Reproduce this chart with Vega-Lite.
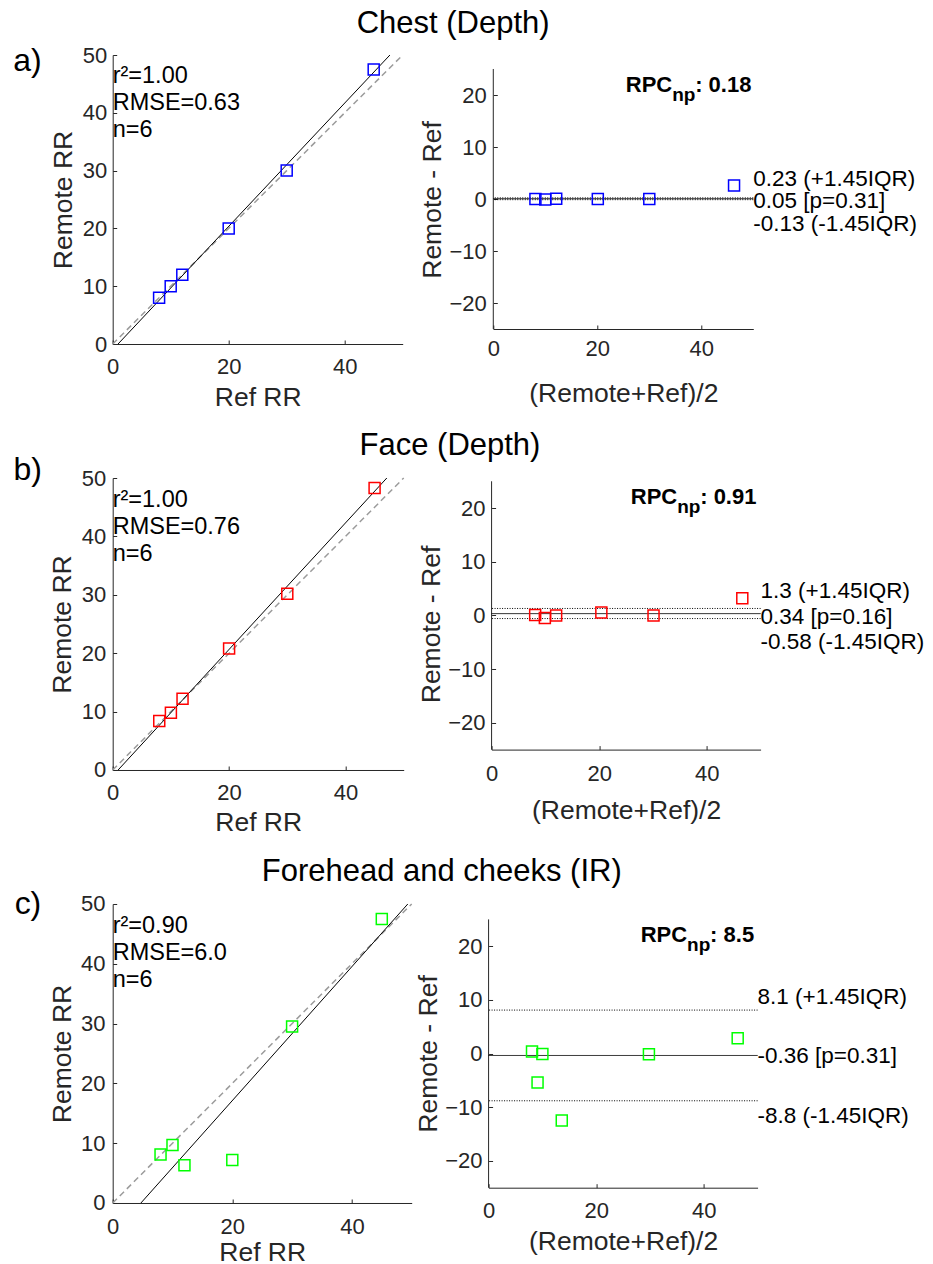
{
"$schema": "https://vega.github.io/schema/vega-lite/v6.json",
"background": "white",
"padding": {"left": 12.7, "top": 8, "right": 5, "bottom": 2},
"spacing": 19,
"config": {
 "font": "Liberation Sans",
 "view": {"stroke": null},
 "axis": {"grid": false, "domainColor": "#262626", "domainWidth": 1, "tickColor": "#262626", "tickSize": -4, "tickWidth": 1, "labelColor": "#262626", "labelFontSize": 22, "labelFont": "Liberation Sans", "titleColor": "#262626", "titleFontSize": 26.5, "titleFont": "Liberation Sans", "titleFontWeight": "normal", "labelFlush": false, "labelOverlap": false},
 "title": {"fontSize": 31, "fontWeight": "normal", "font": "Liberation Sans", "color": "black", "anchor": "middle"}
},
"datasets": {
 "pts_a": [{"ref":8,"remote":8},{"ref":10,"remote":10},{"ref":12,"remote":12},{"ref":20,"remote":20},{"ref":30,"remote":30},{"ref":45,"remote":47.5}],
 "ba_a": [{"mean":8.1,"diff":0},{"mean":10,"diff":-0.1},{"mean":12.1,"diff":0.05},{"mean":20.1,"diff":0},{"mean":30,"diff":0},{"mean":46.3,"diff":2.6}],
 "lines_a": [{"kind":"identity","x1":0,"y1":0,"x2":50,"y2":50},{"kind":"fit","x1":0.92,"y1":0,"x2":47.8,"y2":50}],
 "loa_a": [{"kind":"upper","value":0.23,"label":"0.23 (+1.45IQR)"},{"kind":"mean","value":0.05,"label":"0.05 [p=0.31]"},{"kind":"lower","value":-0.13,"label":"-0.13 (-1.45IQR)"}],
 "info_a": [{"panel":"a)","stats":["r²=1.00","RMSE=0.63","n=6"],"rpc":": 0.18"}],
 "pts_b": [{"ref":8,"remote":8.4},{"ref":10,"remote":9.8},{"ref":12,"remote":12.2},{"ref":20,"remote":20.8},{"ref":30,"remote":30.2},{"ref":45,"remote":48.3}],
 "ba_b": [{"mean":8.1,"diff":0.1},{"mean":9.9,"diff":-0.5},{"mean":12.0,"diff":0},{"mean":20.4,"diff":0.55},{"mean":30.1,"diff":0},{"mean":46.6,"diff":3.2}],
 "lines_b": [{"kind":"identity","x1":0,"y1":0,"x2":50,"y2":50},{"kind":"fit","x1":0.93,"y1":0,"x2":47.1,"y2":50}],
 "loa_b": [{"kind":"upper","value":1.3,"label":"1.3 (+1.45IQR)"},{"kind":"mean","value":0.34,"label":"0.34 [p=0.16]"},{"kind":"lower","value":-0.58,"label":"-0.58 (-1.45IQR)"}],
 "info_b": [{"panel":"b)","stats":["r²=1.00","RMSE=0.76","n=6"],"rpc":": 0.91"}],
 "pts_c": [{"ref":8,"remote":8.1},{"ref":10,"remote":9.7},{"ref":12,"remote":6.3},{"ref":20,"remote":7.2},{"ref":30,"remote":29.5},{"ref":45,"remote":47.5}],
 "ba_c": [{"mean":8.07,"diff":0.37},{"mean":10.0,"diff":-0.07},{"mean":9.1,"diff":-5.4},{"mean":13.6,"diff":-12.5},{"mean":29.8,"diff":-0.13},{"mean":46.3,"diff":2.85}],
 "lines_c": [{"kind":"identity","x1":0,"y1":0,"x2":50,"y2":50},{"kind":"fit","x1":4.72,"y1":0,"x2":49.35,"y2":50}],
 "loa_c": [{"kind":"upper","value":8.1,"label":"8.1 (+1.45IQR)"},{"kind":"mean","value":-0.36,"label":"-0.36 [p=0.31]"},{"kind":"lower","value":-8.8,"label":"-8.8 (-1.45IQR)"}],
 "info_c": [{"panel":"c)","stats":["r²=0.90","RMSE=6.0","n=6"],"rpc":": 8.5"}]
},
"vconcat": [
 {
  "title": {"text": "Chest (Depth)", "dx": -12, "offset": 4},
  "spacing": 15.6,
  "hconcat": [
   {
    "width": 290, "height": 289,
    "layer": [
     {"data": {"name": "lines_a"}, "transform": [{"filter": "datum.kind === 'identity'"}],
      "mark": {"type": "rule", "color": "#9b9b9b", "strokeWidth": 1.5, "strokeDash": [6, 4]},
      "encoding": {
       "x": {"field": "x1", "type": "quantitative", "scale": {"domain": [0, 50], "nice": false, "zero": false}, "axis": {"title": "Ref RR", "values": [0, 20, 40], "labelPadding": 16.5, "titlePadding": 7}},
       "y": {"field": "y1", "type": "quantitative", "scale": {"domain": [0, 50], "nice": false, "zero": false}, "axis": {"title": "Remote RR", "values": [0, 10, 20, 30, 40, 50], "labelPadding": 10, "titlePadding": 5}},
       "x2": {"field": "x2"}, "y2": {"field": "y2"}}},
     {"data": {"name": "lines_a"}, "transform": [{"filter": "datum.kind === 'fit'"}],
      "mark": {"type": "rule", "color": "black", "strokeWidth": 1},
      "encoding": {"x": {"field": "x1", "type": "quantitative"}, "y": {"field": "y1", "type": "quantitative"}, "x2": {"field": "x2"}, "y2": {"field": "y2"}}},
     {"data": {"name": "pts_a"},
      "mark": {"type": "point", "shape": "square", "filled": false, "size": 121, "strokeWidth": 1.5, "color": "#0000ff", "opacity": 1},
      "encoding": {"x": {"field": "ref", "type": "quantitative"}, "y": {"field": "remote", "type": "quantitative"}}},
     {"data": {"name": "info_a"},
      "mark": {"type": "text", "align": "left", "baseline": "alphabetic", "fontSize": 23.5, "lineHeight": 26.7, "color": "black"},
      "encoding": {"x": {"datum": 0}, "y": {"datum": 45.1}, "text": {"field": "stats"}}},
     {"data": {"name": "info_a"},
      "mark": {"type": "text", "align": "left", "baseline": "alphabetic", "fontSize": 32, "color": "black"},
      "encoding": {"x": {"datum": -17.15}, "y": {"datum": 47.2}, "text": {"field": "panel"}}}
    ]
   },
   {
    "width": 260, "height": 289,
    "layer": [
     {"data": {"name": "info_a"}, "mark": {"type": "rule", "color": "#262626", "strokeWidth": 1},
      "encoding": {"x": {"datum": 0}, "y": {"datum": -25}, "y2": {"datum": 25}}},
     {"data": {"name": "loa_a"}, "mark": {"type": "rule", "color": "black", "strokeWidth": 1},
      "encoding": {"y": {"field": "value", "type": "quantitative"}, "strokeDash": {"field": "kind", "type": "nominal", "scale": {"domain": ["upper", "mean", "lower"], "range": [[1, 1.5], [1, 0], [1, 1.5]]}, "legend": null}}},
     {"data": {"name": "ba_a"},
      "mark": {"type": "point", "shape": "square", "filled": false, "size": 121, "strokeWidth": 1.5, "color": "#0000ff", "opacity": 1},
      "encoding": {
       "x": {"field": "mean", "type": "quantitative", "scale": {"domain": [0, 50], "nice": false, "zero": false}, "axis": {"title": "(Remote+Ref)/2", "values": [0, 20, 40], "offset": -15, "labelPadding": 13, "titlePadding": 21}},
       "y": {"field": "diff", "type": "quantitative", "scale": {"domain": [-27.88, 27.69], "nice": false, "zero": false}, "axis": {"title": "Remote - Ref", "values": [-20, -10, 0, 10, 20], "domain": false, "labelPadding": 11, "titlePadding": 2}}}},
     {"data": {"name": "loa_a"}, "transform": [{"filter": "datum.kind === 'upper'"}],
      "mark": {"type": "text", "align": "left", "baseline": "middle", "fontSize": 22.5, "dy": -18.5, "color": "black"},
      "encoding": {"x": {"datum": 50}, "y": {"field": "value", "type": "quantitative"}, "text": {"field": "label"}}},
     {"data": {"name": "loa_a"}, "transform": [{"filter": "datum.kind === 'mean'"}],
      "mark": {"type": "text", "align": "left", "baseline": "middle", "fontSize": 22.5, "dy": 2, "color": "black"},
      "encoding": {"x": {"datum": 50}, "y": {"field": "value", "type": "quantitative"}, "text": {"field": "label"}}},
     {"data": {"name": "loa_a"}, "transform": [{"filter": "datum.kind === 'lower'"}],
      "mark": {"type": "text", "align": "left", "baseline": "middle", "fontSize": 22.5, "dy": 24.6, "color": "black"},
      "encoding": {"x": {"datum": 50}, "y": {"field": "value", "type": "quantitative"}, "text": {"field": "label"}}},
     {"data": {"name": "info_a"}, "mark": {"type": "text", "align": "right", "baseline": "alphabetic", "fontSize": 22, "fontWeight": "bold", "color": "black"},
      "encoding": {"x": {"datum": 34.4}, "y": {"datum": 20.6}, "text": {"value": "RPC"}}},
     {"data": {"name": "info_a"}, "mark": {"type": "text", "align": "left", "baseline": "alphabetic", "fontSize": 19, "fontWeight": "bold", "dy": 9, "color": "black"},
      "encoding": {"x": {"datum": 34.4}, "y": {"datum": 20.6}, "text": {"value": "np"}}},
     {"data": {"name": "info_a"}, "mark": {"type": "text", "align": "left", "baseline": "alphabetic", "fontSize": 22, "fontWeight": "bold", "dx": 23, "color": "black"},
      "encoding": {"x": {"datum": 34.4}, "y": {"datum": 20.6}, "text": {"field": "rpc"}}}
    ]
   }
  ]
 },
 {
  "title": {"text": "Face (Depth)", "dx": -19, "offset": -8},
  "spacing": 12.9,
  "hconcat": [
   {
    "width": 291, "height": 292,
    "layer": [
     {"data": {"name": "lines_b"}, "transform": [{"filter": "datum.kind === 'identity'"}],
      "mark": {"type": "rule", "color": "#9b9b9b", "strokeWidth": 1.5, "strokeDash": [6, 4]},
      "encoding": {
       "x": {"field": "x1", "type": "quantitative", "scale": {"domain": [0, 50], "nice": false, "zero": false}, "axis": {"title": "Ref RR", "values": [0, 20, 40], "labelPadding": 16.8, "titlePadding": 5.7}},
       "y": {"field": "y1", "type": "quantitative", "scale": {"domain": [0, 50], "nice": false, "zero": false}, "axis": {"title": "Remote RR", "values": [0, 10, 20, 30, 40, 50], "labelPadding": 11, "titlePadding": 4.4}},
       "x2": {"field": "x2"}, "y2": {"field": "y2"}}},
     {"data": {"name": "lines_b"}, "transform": [{"filter": "datum.kind === 'fit'"}],
      "mark": {"type": "rule", "color": "black", "strokeWidth": 1},
      "encoding": {"x": {"field": "x1", "type": "quantitative"}, "y": {"field": "y1", "type": "quantitative"}, "x2": {"field": "x2"}, "y2": {"field": "y2"}}},
     {"data": {"name": "pts_b"},
      "mark": {"type": "point", "shape": "square", "filled": false, "size": 121, "strokeWidth": 1.5, "color": "#ff0000", "opacity": 1},
      "encoding": {"x": {"field": "ref", "type": "quantitative"}, "y": {"field": "remote", "type": "quantitative"}}},
     {"data": {"name": "info_b"},
      "mark": {"type": "text", "align": "left", "baseline": "alphabetic", "fontSize": 23.5, "lineHeight": 26.7, "color": "black"},
      "encoding": {"x": {"datum": 0}, "y": {"datum": 45.0}, "text": {"field": "stats"}}},
     {"data": {"name": "info_b"},
      "mark": {"type": "text", "align": "left", "baseline": "alphabetic", "fontSize": 32, "color": "black"},
      "encoding": {"x": {"datum": -17.03}, "y": {"datum": 49.6}, "text": {"field": "panel"}}}
    ]
   },
   {
    "width": 269, "height": 292,
    "layer": [
     {"data": {"name": "info_b"}, "mark": {"type": "rule", "color": "#262626", "strokeWidth": 1},
      "encoding": {"x": {"datum": 0}, "y": {"datum": -25}, "y2": {"datum": 25}}},
     {"data": {"name": "loa_b"}, "mark": {"type": "rule", "color": "black", "strokeWidth": 1},
      "encoding": {"y": {"field": "value", "type": "quantitative"}, "strokeDash": {"field": "kind", "type": "nominal", "scale": {"domain": ["upper", "mean", "lower"], "range": [[1, 1.5], [1, 0], [1, 1.5]]}, "legend": null}}},
     {"data": {"name": "ba_b"},
      "mark": {"type": "point", "shape": "square", "filled": false, "size": 121, "strokeWidth": 1.5, "color": "#ff0000", "opacity": 1},
      "encoding": {
       "x": {"field": "mean", "type": "quantitative", "scale": {"domain": [0, 50], "nice": false, "zero": false}, "axis": {"title": "(Remote+Ref)/2", "values": [0, 20, 40], "offset": -20.4, "labelPadding": 17.5, "titlePadding": 13.4}},
       "y": {"field": "diff", "type": "quantitative", "scale": {"domain": [-28.8, 25.61], "nice": false, "zero": false}, "axis": {"title": "Remote - Ref", "values": [-20, -10, 0, 10, 20], "domain": false, "labelPadding": 10.6, "titlePadding": 2.5}}}},
     {"data": {"name": "loa_b"}, "transform": [{"filter": "datum.kind === 'upper'"}],
      "mark": {"type": "text", "align": "left", "baseline": "middle", "fontSize": 22.5, "dy": -17.5, "color": "black"},
      "encoding": {"x": {"datum": 50}, "y": {"field": "value", "type": "quantitative"}, "text": {"field": "label"}}},
     {"data": {"name": "loa_b"}, "transform": [{"filter": "datum.kind === 'mean'"}],
      "mark": {"type": "text", "align": "left", "baseline": "middle", "fontSize": 22.5, "dy": 3.3, "color": "black"},
      "encoding": {"x": {"datum": 50}, "y": {"field": "value", "type": "quantitative"}, "text": {"field": "label"}}},
     {"data": {"name": "loa_b"}, "transform": [{"filter": "datum.kind === 'lower'"}],
      "mark": {"type": "text", "align": "left", "baseline": "middle", "fontSize": 22.5, "dy": 23.9, "color": "black"},
      "encoding": {"x": {"datum": 50}, "y": {"field": "value", "type": "quantitative"}, "text": {"field": "label"}}},
     {"data": {"name": "info_b"}, "mark": {"type": "text", "align": "right", "baseline": "alphabetic", "fontSize": 22, "fontWeight": "bold", "color": "black"},
      "encoding": {"x": {"datum": 34.5}, "y": {"datum": 20.84}, "text": {"value": "RPC"}}},
     {"data": {"name": "info_b"}, "mark": {"type": "text", "align": "left", "baseline": "alphabetic", "fontSize": 19, "fontWeight": "bold", "dy": 9, "color": "black"},
      "encoding": {"x": {"datum": 34.5}, "y": {"datum": 20.84}, "text": {"value": "np"}}},
     {"data": {"name": "info_b"}, "mark": {"type": "text", "align": "left", "baseline": "alphabetic", "fontSize": 22, "fontWeight": "bold", "dx": 23, "color": "black"},
      "encoding": {"x": {"datum": 34.5}, "y": {"datum": 20.84}, "text": {"field": "rpc"}}}
    ]
   }
  ]
 },
 {
  "title": {"text": "Forehead and cheeks (IR)", "dx": -20, "offset": 0},
  "spacing": 2.9,
  "hconcat": [
   {
    "width": 299, "height": 299,
    "layer": [
     {"data": {"name": "lines_c"}, "transform": [{"filter": "datum.kind === 'identity'"}],
      "mark": {"type": "rule", "color": "#9b9b9b", "strokeWidth": 1.5, "strokeDash": [6, 4]},
      "encoding": {
       "x": {"field": "x1", "type": "quantitative", "scale": {"domain": [0, 50], "nice": false, "zero": false}, "axis": {"title": "Ref RR", "values": [0, 20, 40], "labelPadding": 17.9, "titlePadding": 1.5}},
       "y": {"field": "y1", "type": "quantitative", "scale": {"domain": [0, 50], "nice": false, "zero": false}, "axis": {"title": "Remote RR", "values": [0, 10, 20, 30, 40, 50], "labelPadding": 11.7, "titlePadding": 4.5}},
       "x2": {"field": "x2"}, "y2": {"field": "y2"}}},
     {"data": {"name": "lines_c"}, "transform": [{"filter": "datum.kind === 'fit'"}],
      "mark": {"type": "rule", "color": "black", "strokeWidth": 1},
      "encoding": {"x": {"field": "x1", "type": "quantitative"}, "y": {"field": "y1", "type": "quantitative"}, "x2": {"field": "x2"}, "y2": {"field": "y2"}}},
     {"data": {"name": "pts_c"},
      "mark": {"type": "point", "shape": "square", "filled": false, "size": 121, "strokeWidth": 1.5, "color": "#00ff00", "opacity": 1},
      "encoding": {"x": {"field": "ref", "type": "quantitative"}, "y": {"field": "remote", "type": "quantitative"}}},
     {"data": {"name": "info_c"},
      "mark": {"type": "text", "align": "left", "baseline": "alphabetic", "fontSize": 23.5, "lineHeight": 26.7, "color": "black"},
      "encoding": {"x": {"datum": 0}, "y": {"datum": 45.1}, "text": {"field": "stats"}}},
     {"data": {"name": "info_c"},
      "mark": {"type": "text", "align": "left", "baseline": "alphabetic", "fontSize": 32, "color": "black"},
      "encoding": {"x": {"datum": -16.4}, "y": {"datum": 48.4}, "text": {"field": "panel"}}}
    ]
   },
   {
    "width": 269, "height": 299,
    "layer": [
     {"data": {"name": "info_c"}, "mark": {"type": "rule", "color": "#262626", "strokeWidth": 1},
      "encoding": {"x": {"datum": 0}, "y": {"datum": -25}, "y2": {"datum": 25}}},
     {"data": {"name": "loa_c"}, "mark": {"type": "rule", "color": "black", "strokeWidth": 1},
      "encoding": {"y": {"field": "value", "type": "quantitative"}, "strokeDash": {"field": "kind", "type": "nominal", "scale": {"domain": ["upper", "mean", "lower"], "range": [[1, 1.5], [1, 0], [1, 1.5]]}, "legend": null}}},
     {"data": {"name": "ba_c"},
      "mark": {"type": "point", "shape": "square", "filled": false, "size": 121, "strokeWidth": 1.5, "color": "#00ff00", "opacity": 1},
      "encoding": {
       "x": {"field": "mean", "type": "quantitative", "scale": {"domain": [0, 50], "nice": false, "zero": false}, "axis": {"title": "(Remote+Ref)/2", "values": [0, 20, 40], "offset": -15.3, "labelPadding": 16.5, "titlePadding": 7.7}},
       "y": {"field": "diff", "type": "quantitative", "scale": {"domain": [-27.85, 27.87], "nice": false, "zero": false}, "axis": {"title": "Remote - Ref", "values": [-20, -10, 0, 10, 20], "domain": false, "labelPadding": 10.6, "titlePadding": 2}}}},
     {"data": {"name": "loa_c"}, "transform": [{"filter": "datum.kind === 'upper'"}],
      "mark": {"type": "text", "align": "left", "baseline": "middle", "fontSize": 22.5, "dy": -12.7, "color": "black"},
      "encoding": {"x": {"datum": 50}, "y": {"field": "value", "type": "quantitative"}, "text": {"field": "label"}}},
     {"data": {"name": "loa_c"}, "transform": [{"filter": "datum.kind === 'mean'"}],
      "mark": {"type": "text", "align": "left", "baseline": "middle", "fontSize": 22.5, "dy": 0.3, "color": "black"},
      "encoding": {"x": {"datum": 50}, "y": {"field": "value", "type": "quantitative"}, "text": {"field": "label"}}},
     {"data": {"name": "loa_c"}, "transform": [{"filter": "datum.kind === 'lower'"}],
      "mark": {"type": "text", "align": "left", "baseline": "middle", "fontSize": 22.5, "dy": 14.9, "color": "black"},
      "encoding": {"x": {"datum": 50}, "y": {"field": "value", "type": "quantitative"}, "text": {"field": "label"}}},
     {"data": {"name": "info_c"}, "mark": {"type": "text", "align": "right", "baseline": "alphabetic", "fontSize": 22, "fontWeight": "bold", "color": "black"},
      "encoding": {"x": {"datum": 36.9}, "y": {"datum": 20.85}, "text": {"value": "RPC"}}},
     {"data": {"name": "info_c"}, "mark": {"type": "text", "align": "left", "baseline": "alphabetic", "fontSize": 19, "fontWeight": "bold", "dy": 9, "color": "black"},
      "encoding": {"x": {"datum": 36.9}, "y": {"datum": 20.85}, "text": {"value": "np"}}},
     {"data": {"name": "info_c"}, "mark": {"type": "text", "align": "left", "baseline": "alphabetic", "fontSize": 22, "fontWeight": "bold", "dx": 23, "color": "black"},
      "encoding": {"x": {"datum": 36.9}, "y": {"datum": 20.85}, "text": {"field": "rpc"}}}
    ]
   }
  ]
 }
]
}
